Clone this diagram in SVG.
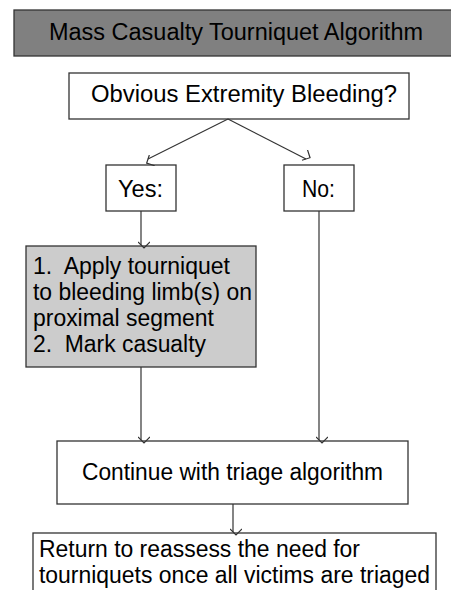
<svg xmlns="http://www.w3.org/2000/svg" width="451" height="590" viewBox="0 0 451 590">
<defs>
<marker id="arr" markerWidth="12" markerHeight="12" refX="6" refY="9" orient="auto" markerUnits="userSpaceOnUse" viewBox="0 0 12 12">
<polyline points="0,3 6,9 12,3" fill="none" stroke="#333" stroke-width="1.2" transform="rotate(-90 6 6)"/>
</marker>
<style>
.box{fill:#fff;stroke:#333;stroke-width:1.3}
.t{font-family:"Liberation Sans",Arial,sans-serif;font-size:23px;fill:#000}
.c{stroke:#333;stroke-width:1.2;fill:none}
</style>
</defs>
<rect width="451" height="590" fill="#fff"/>
<g id="title">
<rect x="14" y="10" width="450" height="46" fill="#808080" stroke="#333" stroke-width="1.3"/>
<text class="t" x="49" y="40" textLength="374" lengthAdjust="spacingAndGlyphs">Mass Casualty Tourniquet Algorithm</text>
</g>
<g id="question">
<rect class="box" x="69" y="73" width="340" height="46"/>
<text class="t" x="91" y="102" textLength="306" lengthAdjust="spacingAndGlyphs">Obvious Extremity Bleeding?</text>
</g>
<g id="yes">
<rect class="box" x="106" y="165" width="70" height="46"/>
<text class="t" x="118" y="197" textLength="45" lengthAdjust="spacingAndGlyphs">Yes:</text>
</g>
<g id="no">
<rect class="box" x="284" y="165" width="70" height="46"/>
<text class="t" x="302" y="197" textLength="33" lengthAdjust="spacingAndGlyphs">No:</text>
</g>
<g id="apply">
<rect x="26" y="246" width="230" height="121" fill="#cccccc" stroke="#333" stroke-width="1.3"/>
<text class="t" x="33" y="274" textLength="197" lengthAdjust="spacingAndGlyphs" xml:space="preserve">1.  Apply tourniquet</text>
<text class="t" x="33" y="300" textLength="219" lengthAdjust="spacingAndGlyphs">to bleeding limb(s) on</text>
<text class="t" x="33" y="326" textLength="181" lengthAdjust="spacingAndGlyphs">proximal segment</text>
<text class="t" x="33" y="352" textLength="173" lengthAdjust="spacingAndGlyphs" xml:space="preserve">2.  Mark casualty</text>
</g>
<g id="continue">
<rect class="box" x="57" y="441" width="351" height="63"/>
<text class="t" x="82" y="480" textLength="301" lengthAdjust="spacingAndGlyphs">Continue with triage algorithm</text>
</g>
<g id="return">
<rect class="box" x="33" y="533" width="403" height="70"/>
<text class="t" x="39" y="557" textLength="321" lengthAdjust="spacingAndGlyphs">Return to reassess the need for</text>
<text class="t" x="39" y="583" textLength="391" lengthAdjust="spacingAndGlyphs">tourniquets once all victims are triaged</text>
</g>
<g id="connectors">
<line class="c" x1="228" y1="119" x2="148" y2="159" marker-end="url(#arr)"/>
<line class="c" x1="228" y1="119" x2="306" y2="159" marker-end="url(#arr)"/>
<line class="c" x1="141" y1="211" x2="141" y2="245" marker-end="url(#arr)"/>
<line class="c" x1="141" y1="367" x2="141" y2="440" marker-end="url(#arr)"/>
<line class="c" x1="319" y1="211" x2="319" y2="440" marker-end="url(#arr)"/>
<line class="c" x1="233" y1="504" x2="233" y2="532" marker-end="url(#arr)"/>
</g>
</svg>
